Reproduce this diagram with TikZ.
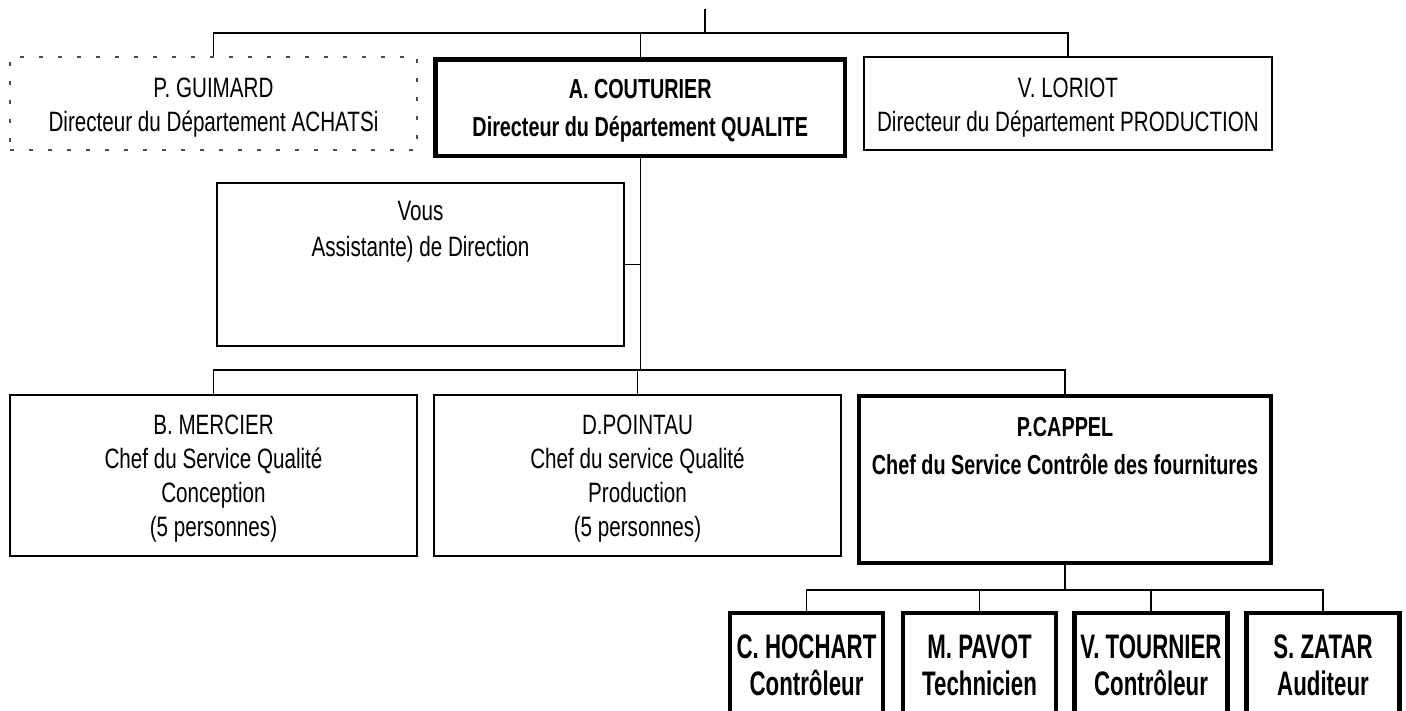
\documentclass[tikz,border=0pt]{standalone}
\usepackage{fontspec}
\setmainfont{Liberation Sans}[FakeStretch=0.737]
\newfontfamily\boldnarrow{Liberation Sans}[FakeStretch=0.72]
\newfontfamily\tallfont{Liberation Sans}[FakeStretch=0.655]
\begin{document}
\begin{tikzpicture}[x=1pt,y=-1pt,
  every node/.style={inner sep=0pt, align=center},
  reg/.style={font=\fontsize{28}{34}\selectfont},
  regwide/.style={font=\fontsize{28}{36}\selectfont},
  bld/.style={font=\boldnarrow\bfseries\fontsize{27.5}{38}\selectfont},
  tall/.style={font=\tallfont\bfseries\fontsize{34}{37}\selectfont},
  box/.style={draw, line width=1.3pt, rectangle},
  thickbox/.style={draw, line width=4.5pt, rectangle},
  dotbox/.style={draw=black!70, line width=1.3pt, dash pattern=on 4pt off 15pt},
  conn/.style={line width=1.5pt},
  small/.style={thickbox, minimum width=153, minimum height=110}
]
\useasboundingbox (0,0) rectangle (1406,711);

% top row
\node[dotbox, minimum width=407, minimum height=93,
  label={[reg, yshift=-4pt]center:P. GUIMARD\\Directeur du Département ACHATSi}] (guimard) at (213.5,103.5) {};
\node[thickbox, minimum width=409.5, minimum height=96.5,
  label={[bld, yshift=-3pt]center:A. COUTURIER\\Directeur du Département QUALITE}] (couturier) at (640.25,107.75) {};
\node[box, minimum width=408, minimum height=93,
  label={[reg, yshift=-4pt]center:V. LORIOT\\Directeur du Département PRODUCTION}] (loriot) at (1068,103.5) {};

% assistant
\node[box, minimum width=407, minimum height=163,
  label={[regwide, anchor=north, yshift=-19pt]north:Vous\\Assistante) de Direction}] (vous) at (420.5,264.5) {};

% middle row
\node[box, minimum width=407, minimum height=161,
  label={[reg, yshift=-3pt]center:B. MERCIER\\Chef du Service Qualité\\Conception\\(5 personnes)}] (mercier) at (213.5,475.5) {};
\node[box, minimum width=407, minimum height=161,
  label={[reg, yshift=-3pt]center:D.POINTAU\\Chef du service Qualité\\Production\\(5 personnes)}] (pointau) at (637.5,475.5) {};
\node[thickbox, minimum width=412, minimum height=167,
  label={[bld, anchor=north, yshift=-23pt]north:P.CAPPEL\\Chef du Service Contrôle des fournitures}] (cappel) at (1065,479.5) {};

% bottom row
\node[small, label={[tall, anchor=north, yshift=-24pt]north:C. HOCHART\\Contrôleur}] (hochart) at (806.5,668) {};
\node[small, label={[tall, anchor=north, yshift=-24pt]north:M. PAVOT\\Technicien}] (pavot) at (979.5,668) {};
\node[small, label={[tall, anchor=north, yshift=-24pt]north:V. TOURNIER\\Contrôleur}] (tournier) at (1151,668) {};
\node[small, label={[tall, anchor=north, yshift=-24pt]north:S. ZATAR\\Auditeur}] (zatar) at (1323,668) {};

% connectors
\coordinate (t0) at (705,9);
\coordinate (t1) at (705,33);
\coordinate (m1) at (640,370);
\coordinate (b1) at (1065,590);
\draw[conn] (t0) -- (t1);
\draw[conn] (guimard.north) -- (guimard.north |- t1) -| (loriot.north);
\draw[conn] (couturier.north) -- (couturier.north |- t1);
\draw[conn] (couturier.south) -- (couturier.south |- m1);
\draw[conn] (vous.east) -- (vous.east -| couturier.south);
\draw[conn] (mercier.north) -- (mercier.north |- m1) -| (cappel.north);
\draw[conn] (pointau.north) -- (pointau.north |- m1);
\draw[conn] (cappel.south) -- (b1);
\draw[conn] (hochart.north) -- (hochart.north |- b1) -| (zatar.north);
\draw[conn] (pavot.north) -- (pavot.north |- b1);
\draw[conn] (tournier.north) -- (tournier.north |- b1);
\end{tikzpicture}
\end{document}
